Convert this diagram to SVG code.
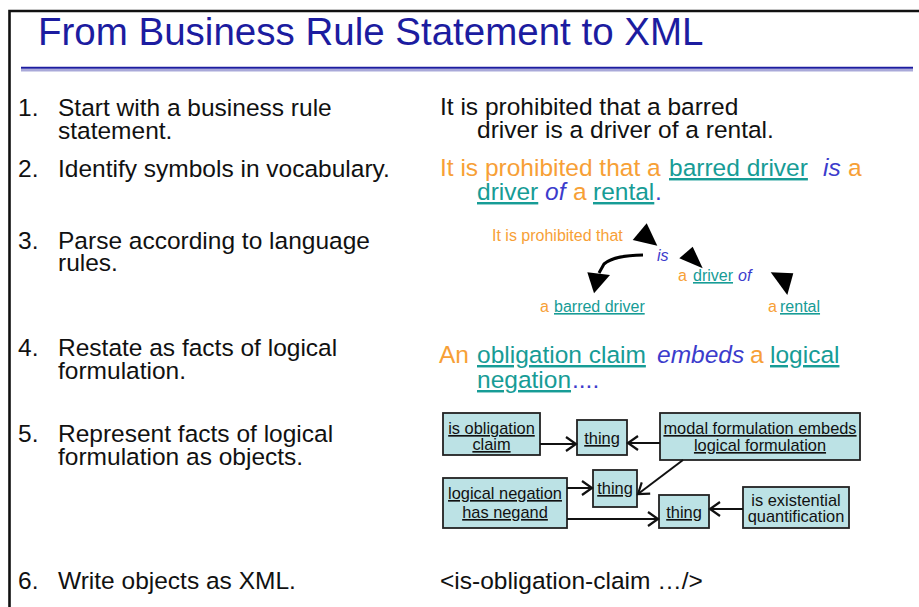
<svg xmlns="http://www.w3.org/2000/svg" width="919" height="607" viewBox="0 0 919 607">
  <style>
    .body { font-family: "Liberation Sans", Arial, sans-serif; font-size: 24.5px; fill: #111; }
    .small { font-family: "Liberation Sans", Arial, sans-serif; font-size: 16px; }
    .org { fill: #F7A036; }
    .teal { fill: #179C96; text-decoration: underline; }
    .blu { fill: #3C3CCC; font-style: italic; }
    .box { fill: #BCE2E5; stroke: #222; stroke-width: 1.8; }
    .btxt { font-family: "Liberation Sans", Arial, sans-serif; font-size: 16.4px; fill: #111; text-anchor: middle; }
    .ul { text-decoration: underline; }
    .link { stroke: #111; stroke-width: 2; fill: none; marker-end: url(#open); }
  </style>
  <defs>
    <marker id="open" markerUnits="userSpaceOnUse" markerWidth="16" markerHeight="16" refX="11" refY="8" orient="auto">
      <path d="M1,1 L11,8 L1,15" fill="none" stroke="#111" stroke-width="2.2"/>
    </marker>
  </defs>

  <rect width="919" height="607" fill="#fff"/>
  <!-- slide frame -->
  <path d="M9.5,607 V11 H919" fill="none" stroke="#111" stroke-width="2.6"/>

  <!-- title -->
  <g id="title">
    <text x="38" y="45" font-family="'Liberation Sans', Arial, sans-serif" font-size="38.5" fill="#1C1CA0">From Business Rule Statement to XML</text>
    <line x1="21" y1="67.8" x2="913" y2="67.8" stroke="#1C1CA0" stroke-width="2"/>
    <line x1="21" y1="70.3" x2="913" y2="70.3" stroke="#A9A9D9" stroke-width="2.6"/>
  </g>

  <!-- numbered steps -->
  <g id="steps" class="body">
    <text x="18" y="116">1.</text>
    <text x="58" y="116">Start with a business rule</text>
    <text x="58" y="139">statement.</text>
    <text x="18" y="177">2.</text>
    <text x="58" y="177">Identify symbols in vocabulary.</text>
    <text x="18" y="249">3.</text>
    <text x="58" y="249">Parse according to language</text>
    <text x="58" y="271">rules.</text>
    <text x="18" y="356">4.</text>
    <text x="58" y="356">Restate as facts of logical</text>
    <text x="58" y="379">formulation.</text>
    <text x="18" y="442">5.</text>
    <text x="58" y="442">Represent facts of logical</text>
    <text x="58" y="465">formulation as objects.</text>
    <text x="18" y="589">6.</text>
    <text x="58" y="589">Write objects as XML.</text>
  </g>

  <!-- step 1: rule statement -->
  <g id="statement" class="body">
    <text x="440" y="115">It is prohibited that a barred</text>
    <text x="477" y="138">driver is a driver of a rental.</text>
  </g>

  <!-- step 2: vocabulary symbols -->
  <g id="symbols" class="body">
    <text y="176"><tspan x="440" class="org">It is prohibited that a</tspan><tspan x="669" class="teal">barred driver</tspan><tspan x="823" class="blu">is</tspan><tspan x="848" class="org">a</tspan></text>
    <text y="200"><tspan x="477" class="teal">driver</tspan><tspan x="545" class="blu">of</tspan><tspan x="573" class="org">a</tspan><tspan x="593" class="teal">rental</tspan><tspan x="655" fill="#3C3CCC">.</tspan></text>
  </g>

  <!-- step 3: parse tree -->
  <g id="parse-root" class="small"><text x="492" y="241" class="org">It is prohibited that</text></g>
  <g id="parse-is" class="small"><text x="657" y="261" class="blu">is</text></g>
  <g id="parse-driver-of" class="small"><text y="281"><tspan x="678" class="org">a</tspan><tspan x="693" class="teal">driver</tspan><tspan x="738" class="blu">of</tspan></text></g>
  <g id="parse-barred" class="small"><text y="312"><tspan x="540" class="org">a</tspan><tspan x="554" class="teal">barred driver</tspan></text></g>
  <g id="parse-rental" class="small"><text y="312"><tspan x="768" class="org">a</tspan><tspan x="780" class="teal">rental</tspan></text></g>

  <g id="parse-connectors" fill="#000">
    <polygon points="632.7,240 646.7,223.3 657.3,245.7"/>
    <polygon points="679.3,258.3 692.7,246.7 702.7,268.3"/>
    <path d="M643,255 C626,255.5 612,257 604,264 L599,273" fill="none" stroke="#000" stroke-width="3"/>
    <polygon points="587.3,272.3 610,275 594,293.3"/>
    <polygon points="770.7,272.3 793.3,273.3 787.3,295"/>
  </g>

  <!-- step 4: facts -->
  <g id="facts" class="body">
    <text y="363"><tspan x="439" class="org">An</tspan><tspan x="477" class="teal">obligation claim</tspan><tspan x="657" class="blu">embeds</tspan><tspan x="750" class="org">a</tspan><tspan x="770" class="teal">logical</tspan></text>
    <text y="388"><tspan x="477" class="teal">negation</tspan><tspan x="572" fill="#3C3CCC">....</tspan></text>
  </g>

  <!-- step 5: fact objects -->
  <g id="obligation-claim">
    <rect class="box" x="443" y="413" width="97" height="42"/>
    <text class="btxt" x="491.5" y="434"><tspan class="ul">is obligation</tspan></text>
    <text class="btxt" x="491.5" y="450"><tspan class="ul">claim</tspan></text>
  </g>
  <g id="thing-1">
    <rect class="box" x="577" y="420" width="50" height="35"/>
    <text class="btxt" x="602" y="444"><tspan class="ul">thing</tspan></text>
  </g>
  <g id="modal-embeds">
    <rect class="box" x="660" y="413" width="200" height="47"/>
    <text class="btxt" x="760" y="434"><tspan class="ul">modal formulation embeds</tspan></text>
    <text class="btxt" x="760" y="451"><tspan class="ul">logical formulation</tspan></text>
  </g>
  <g id="thing-2">
    <rect class="box" x="593" y="470" width="44" height="37"/>
    <text class="btxt" x="615" y="494"><tspan class="ul">thing</tspan></text>
  </g>
  <g id="negation-negand">
    <rect class="box" x="443" y="478" width="124" height="50"/>
    <text class="btxt" x="505" y="499"><tspan class="ul">logical negation</tspan></text>
    <text class="btxt" x="505" y="518"><tspan class="ul">has negand</tspan></text>
  </g>
  <g id="thing-3">
    <rect class="box" x="659" y="495" width="50" height="33"/>
    <text class="btxt" x="684" y="518"><tspan class="ul">thing</tspan></text>
  </g>
  <g id="existential">
    <rect class="box" x="743" y="487" width="106" height="41"/>
    <text class="btxt" x="796" y="506">is existential</text>
    <text class="btxt" x="796" y="522">quantification</text>
  </g>

  <g id="object-connectors">
    <path class="link" d="M540,444 L576,444"/>
    <path class="link" d="M660,443 L628,443"/>
    <path class="link" d="M683,460 L638,494"/>
    <path class="link" d="M567,488 L592,488"/>
    <path class="link" d="M567,519 L658,519"/>
    <path class="link" d="M743,509 L710,509"/>
  </g>

  <!-- step 6: xml -->
  <g id="xml" class="body">
    <text x="440" y="589">&lt;is-obligation-claim …/&gt;</text>
  </g>
</svg>
